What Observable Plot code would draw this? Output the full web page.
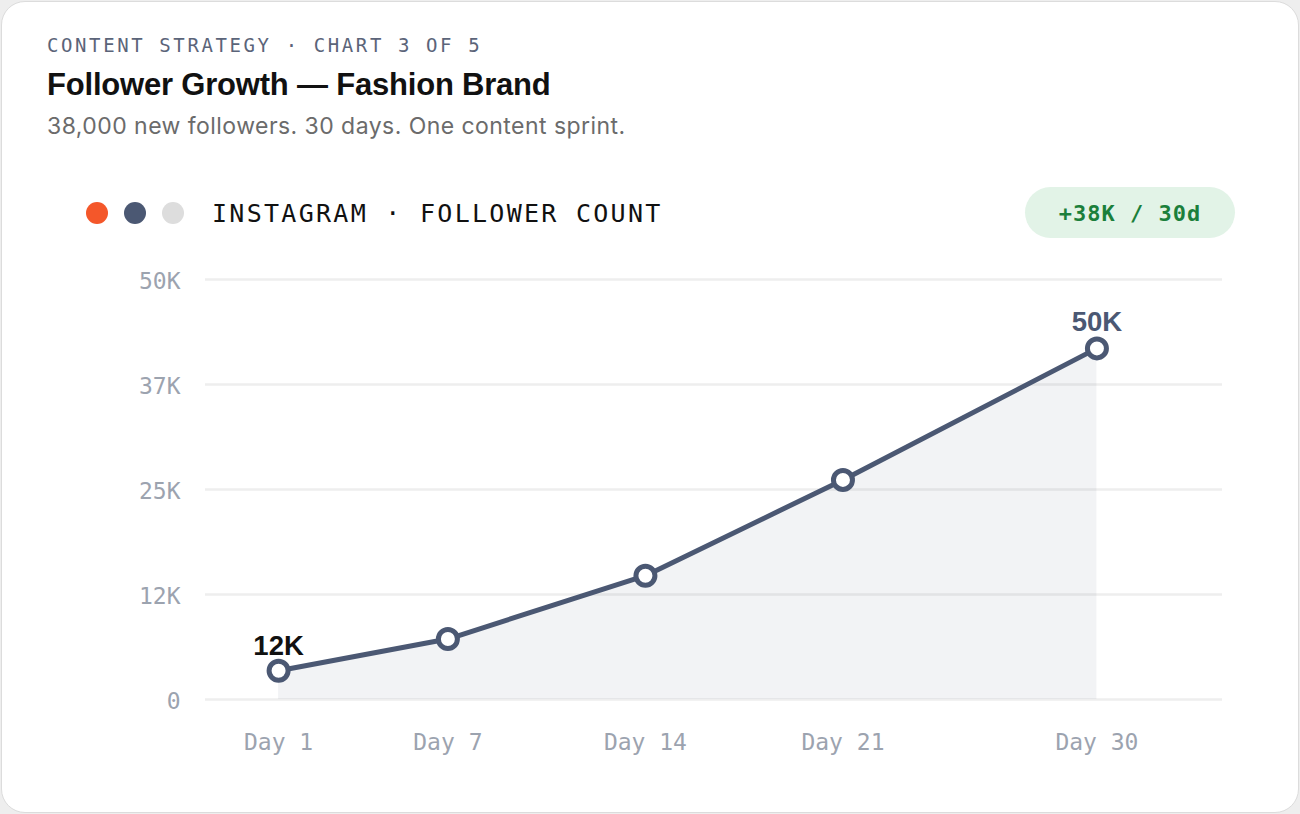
<!DOCTYPE html>
<html>
<head>
<meta charset="utf-8">
<script src="https://cdn.jsdelivr.net/npm/d3@7"></script>
<script src="https://cdn.jsdelivr.net/npm/@observablehq/plot@0.6"></script>
<style>
  html, body { margin: 0; padding: 0; }
  body { width: 1300px; height: 814px; background: #eeeeee; position: relative; overflow: hidden; }
  .card { position: absolute; left: 1px; top: 1px; width: 1298px; height: 812px; box-sizing: border-box;
          background: #ffffff; border: 1.5px solid #dcdcdc; border-radius: 24px; }
  .abs { position: absolute; white-space: nowrap; }
  .kicker { left: 47px; top: 36.4px; font: 19px/19px "DejaVu Sans Mono", monospace; letter-spacing: 2.6px; color: #5b6479; }
  .title { left: 47px; top: 68.8px; font: bold 31px/31px "Liberation Sans", Arial, sans-serif; letter-spacing: -0.2px; color: #111111; }
  .subtitle { left: 47px; top: 114.5px; font: 23px/23px Inter, sans-serif; letter-spacing: 0.45px; color: #6b6b6b; }
  .dot { position: absolute; width: 22px; height: 22px; border-radius: 50%; top: 202px; }
  .legend { left: 212px; top: 200.5px; font: 25px/25px "DejaVu Sans Mono", monospace; letter-spacing: 2.28px; color: #111111; }
  .badge { position: absolute; left: 1025px; top: 187px; width: 210px; height: 51px; border-radius: 26px;
           background: #e2f3e7; color: #1b7f3b; display: flex; align-items: center; justify-content: center;
           font: bold 22px/22px "DejaVu Sans Mono", monospace; letter-spacing: 1px; padding-top: 2px; box-sizing: border-box; }
  #chart { position: absolute; left: 0; top: 250px; }
</style>
</head>
<body>
<div class="card"></div>
<div class="abs kicker">CONTENT STRATEGY · CHART 3 OF 5</div>
<div class="abs title">Follower Growth — Fashion Brand</div>
<div class="abs subtitle">38,000 new followers. 30 days. One content sprint.</div>
<div class="dot" style="left:86px;background:#f4572a"></div>
<div class="dot" style="left:124px;background:#4b5873"></div>
<div class="dot" style="left:162px;background:#dddddd"></div>
<div class="abs legend">INSTAGRAM · FOLLOWER COUNT</div>
<div class="badge">+38K / 30d</div>
<div id="chart"></div>
<script>
// ---- data ----
const days = [1, 7, 14, 21, 30];
const dayLabels = ["Day 1", "Day 7", "Day 14", "Day 21", "Day 30"];
const followers = [3420, 7200, 14740, 26140, 41800];
const yTicks = [0, 12500, 25000, 37500, 50000];
const yTickLabels = ["0", "12K", "25K", "37K", "50K"];
const startLabel = "12K";
const endLabel = "50K";

const data = days.map((d, i) => ({day: d, followers: followers[i]}));
const first = [data[0]];
const last = [data[data.length - 1]];

const slate = "#4b5873";

const chart = Plot.plot({
  width: 1300,
  height: 540,
  marginLeft: 205,
  marginRight: 78,
  marginTop: 29,
  marginBottom: 91,
  style: {fontFamily: "'DejaVu Sans Mono', monospace", fontSize: "23px", color: "#9ca3af", background: "transparent"},
  x: {type: "linear", domain: [-1.59, 34.45], label: null},
  y: {domain: [0, 50000], label: null},
  marks: [
    Plot.ruleY(yTicks, {stroke: "#eeeeee", strokeWidth: 2.5}),
    Plot.areaY(data, {x: "day", y: "followers", fill: slate, fillOpacity: 0.07}),
    Plot.line(data, {x: "day", y: "followers", stroke: slate, strokeWidth: 5}),
    Plot.dot(data, {x: "day", y: "followers", r: 9.5, fill: "white", stroke: slate, strokeWidth: 5}),
    Plot.text(first, {x: "day", y: "followers", text: () => startLabel, dy: -16, lineAnchor: "bottom",
      fontSize: 27.5, fontWeight: "bold", fontFamily: "'Liberation Sans', Arial, sans-serif", fill: "#111111"}),
    Plot.text(last, {x: "day", y: "followers", text: () => endLabel, dy: -17, lineAnchor: "bottom",
      fontSize: 27.5, fontWeight: "bold", fontFamily: "'Liberation Sans', Arial, sans-serif", fill: slate}),
    Plot.axisY({ticks: yTicks, tickFormat: d => yTickLabels[yTicks.indexOf(d)], tickSize: 0, tickPadding: 25, dy: 2, label: null}),
    Plot.axisX({ticks: days, tickFormat: d => dayLabels[days.indexOf(d)], tickSize: 0, tickPadding: 34, label: null})
  ]
});
document.getElementById("chart").appendChild(chart);
</script>
</body>
</html>
